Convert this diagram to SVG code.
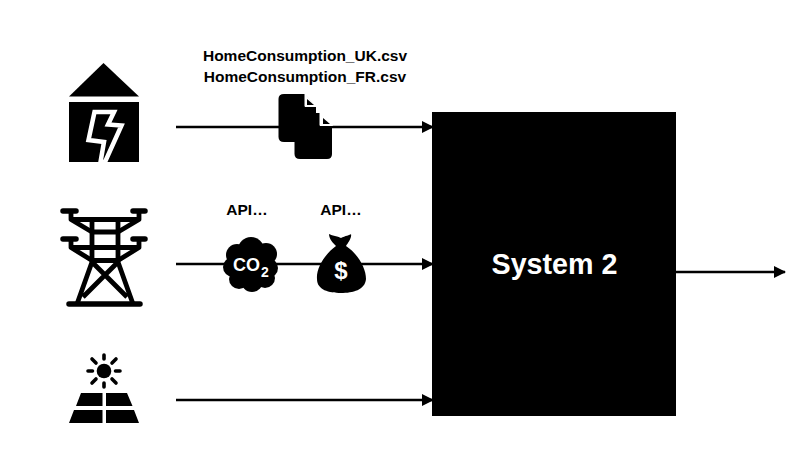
<svg xmlns="http://www.w3.org/2000/svg" width="793" height="462" viewBox="0 0 793 462">
<style>
text{font-family:"Liberation Sans",Arial,sans-serif;font-weight:700;fill:#000}
.lbl{font-size:15.500px;text-anchor:middle}
.conn{stroke:#000;stroke-width:2.400;fill:none;marker-end:url(#arrow)}
.cap{stroke:#000;stroke-width:5.500;fill:none;stroke-linecap:round}
.bar{stroke:#000;stroke-width:4.800;fill:none;stroke-linecap:butt;stroke-linejoin:round}
.ray{stroke:#000;stroke-width:3.600;stroke-linecap:round}
.w{fill:#fff;font-family:"Liberation Sans",sans-serif}
</style>
<defs>
<marker id="arrow" markerUnits="userSpaceOnUse" markerWidth="12" markerHeight="12" refX="11" refY="6" orient="auto"><path d="M0 0L12 6L0 12Z" fill="#000"/></marker>
</defs>
<rect width="793" height="462" fill="#fff"/>
<g id="connectors">
<path class="conn" d="M176 127H433"/>
<path class="conn" d="M176 264H433"/>
<path class="conn" d="M176 400H433"/>
<path class="conn" d="M676 272H785"/>
</g>
<g id="home">
<path d="M103.500 63L139 96.500H69Z" fill="#000"/>
<rect x="69" y="102" width="70" height="60" fill="#000"/>
<path d="M94.500 112H114L108 124.500L121.500 125.500L105 162H100.500L104 142L88.500 140Z" fill="#000" stroke="#fff" stroke-width="4.500"/>
</g>
<g id="grid">
<path class="cap" d="M63 211H76M133 211H145M63 239H76M133 239H145M69 304H140"/>
<path class="bar" d="M71 211V219.500L92 232H118L139 219.500V211M71 239V247.500L92 260.500H118L139 247.500V239M71 219.500H139M71 247.500H139"/>
<path class="bar" d="M92 219V262L77 304M118 219V262L133 304M92 262L127 297M118 262L83 297"/>
</g>
<g id="solar">
<circle cx="104" cy="371" r="7.300" fill="#000"/>
<path class="ray" d="M104 355V359M104 383V387M88 371H92.500M115.500 371H120M92 359L96 363M116 359L112 363M92 383L96 379M116 383L112 379"/>
<path fill="#000" d="M81 393H102.500V406H76ZM106 393H127L132.500 406H106ZM74 410H102.500V423H69ZM106 410H134L139 423H106Z"/>
</g>
<g id="files">
<text class="lbl" x="305" y="61">HomeConsumption_UK.csv</text>
<text class="lbl" x="305" y="82">HomeConsumption_FR.csv</text>
<path d="M284 94H305L316 107V137Q316 142 311 142H284Q278.500 142 278.500 137V99Q278.500 94 284 94Z" fill="#000"/>
<path d="M300 113H320L332 126V154Q332 159 327 159H300Q294.500 159 294.500 154V118Q294.500 113 300 113Z" fill="#000"/>
<path d="M305 94L316.500 106.500H305Z" fill="#fff" stroke="#fff" stroke-width="1"/>
<path d="M307 99L314 105H307Z" fill="#000"/>
<path d="M320 113L332.500 125.500H320Z" fill="#fff" stroke="#fff" stroke-width="1"/>
<path d="M323 118L330 124H323Z" fill="#000"/>
</g>
<g id="co2">
<text class="lbl" x="247" y="215">API…</text>
<g fill="#000"><circle cx="251" cy="250" r="13"/><circle cx="237" cy="255" r="11"/><circle cx="266" cy="254" r="11"/><circle cx="233" cy="267" r="10"/><circle cx="268" cy="268" r="10"/><circle cx="239" cy="279" r="10"/><circle cx="252" cy="281" r="11"/><circle cx="265" cy="278" r="10"/><circle cx="251" cy="265" r="16"/></g>
<text class="w" x="233" y="271" style="font-size:18px">CO</text>
<text class="w" x="261" y="277" style="font-size:14px">2</text>
</g>
<g id="money">
<text class="lbl" x="341" y="215">API…</text>
<path d="M329 234C333 236 337 236 341 238C345 236 350 235 351 234C352 238 348 243 346 246C358 254 366 268 366 279C365 290 353 293 341 293C329 293 317 290 317 279C316 268 325 254 336 246C333 243 329 239 329 234Z" fill="#000"/>
<text x="341" y="279" text-anchor="middle" style="font-size:24px;fill:#fff">$</text>
</g>
<g id="system">
<rect x="432" y="112" width="244" height="304" fill="#000"/>
<text x="554.500" y="274" text-anchor="middle" style="font-size:28.700px;fill:#fff">System 2</text>
</g>
</svg>
